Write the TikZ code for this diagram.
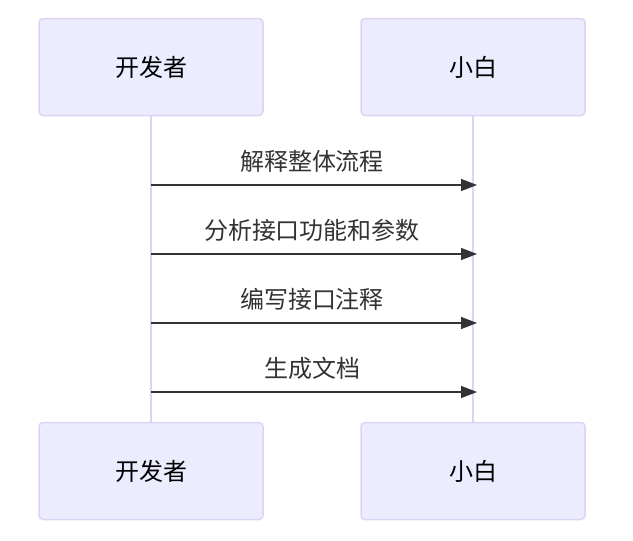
\documentclass[tikz,border=0pt]{standalone}
\usepackage{fontspec}
\setmainfont{Noto Sans CJK SC}
\usetikzlibrary{arrows.meta}
\definecolor{actorfill}{HTML}{ECECFF}
\definecolor{actorline}{HTML}{DCD4F2}
\definecolor{msgline}{HTML}{333333}
\tikzset{
    actor/.style={draw=actorline, fill=actorfill, line width=1.5pt, rounded corners=4pt,
        minimum width=224pt, minimum height=97pt, font=\fontsize{24pt}{28pt}\selectfont},
    lifeline/.style={draw=actorline, line width=2pt},
    msg/.style={draw=msgline, line width=1.5pt, -{Triangle[length=16pt,width=12pt]}},
    msglabel/.style={font=\fontsize{24pt}{28pt}\selectfont, text=msgline}
}
\begin{document}
\begin{tikzpicture}[x=1pt, y=-1pt]
        \useasboundingbox (0,0) rectangle (633,541);

        % Lifelines
        \coordinate (devTopEnd) at (151,116);
        \coordinate (devBotEnd) at (151,422);
        \coordinate (xbTopEnd) at (473,116);
        \coordinate (xbBotEnd) at (473,422);
        \draw[lifeline] (devTopEnd) -- (devBotEnd);
        \draw[lifeline] (xbTopEnd) -- (xbBotEnd);

        % Actors
        \node[actor] (devTop) at (151,67) {开发者};
        \node[actor] (xbTop) at (473,67) {小白};
        \node[actor] (devBot) at (151,471) {开发者};
        \node[actor] (xbBot) at (473,471) {小白};

        % Messages
        \foreach \y/\txt [count=\i] in {185/解释整体流程, 254/分析接口功能和参数, 323/编写接口注释, 392/生成文档}{
            \coordinate (src\i) at (151,\y);
            \coordinate (dst\i) at (477,\y);
            \draw[msg] (src\i) -- (dst\i);
            \node[msglabel] (lbl\i) at (312,\y-24) {\txt};
        }
    \end{tikzpicture}
\end{document}
